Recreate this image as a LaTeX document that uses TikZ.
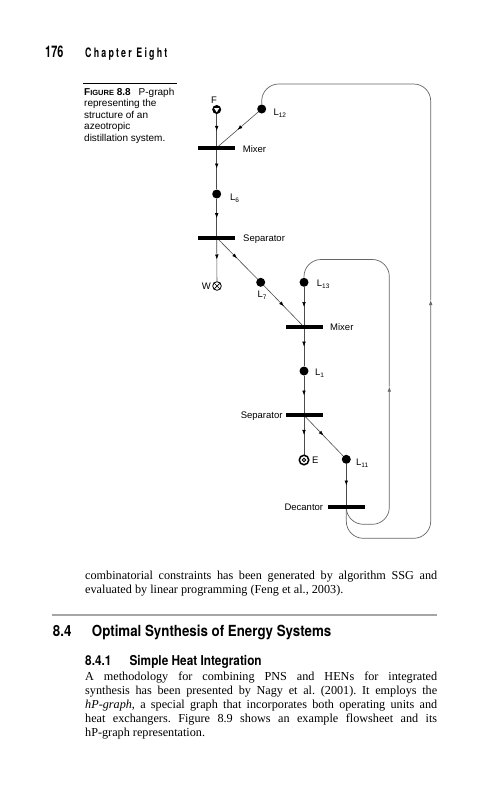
\documentclass[tikz,border=0pt]{standalone}
\usepackage{fontspec}
\setmainfont{Liberation Serif}
\setsansfont{Liberation Sans}
\newfontfamily\condfont[FakeStretch=0.68]{TeX Gyre Heros}
\newfontfamily\secfont[FakeStretch=0.87]{TeX Gyre Heros}
\usetikzlibrary{arrows.meta,decorations.markings,backgrounds}

\newcommand\Lsub[1]{L\raisebox{-2pt}{\fontsize{6.5}{7}\selectfont #1}}

\tikzset{
  dot/.style={circle,fill=black,inner sep=0pt,minimum size=9pt},
  unitbar/.style={fill=black,inner sep=0pt,minimum width=37pt,minimum height=4pt},
  lbl/.style={font=\sffamily\fontsize{9.5}{10}\selectfont,inner sep=0pt,anchor=base west},
  txt/.style={inner sep=0pt,anchor=base west},
  body/.style={txt,font=\frenchspacing\fontsize{12.2}{14}\selectfont},
  flow/.style={draw=black!70,line width=0.6pt,postaction={decorate},
    decoration={markings,mark=at position 0.5 with {\arrow[black]{Latex[length=5pt,width=3.6pt]}}}},
  recycle/.style={draw=black!60,line width=0.7pt,rounded corners=17pt},
}

\begin{document}
\begin{tikzpicture}[x=1pt,y=-1pt]
\useasboundingbox (0,0) rectangle (488,800);

% running head
\node[txt] (pageno) at (45,57.5) {\condfont\bfseries\fontsize{16}{16}\selectfont 176};
\node[txt] (chapter) at (85,57) {\condfont\bfseries\fontsize{13}{13}\selectfont\addfontfeature{LetterSpace=17}Chapter Eight};

% caption
\draw[line width=1.3pt] (83.3,83.3) -- (176.7,83.3);
\foreach \line [count=\i] in {{{\bfseries F{\fontsize{7.5}{8}\selectfont IGURE} 8.8}\hspace{8pt}P-graph},
    representing the, structure of an, azeotropic, distillation system.}
  \node[txt,font=\sffamily\fontsize{10}{11}\selectfont] (capt\i) at (84,83.4+11.6*\i) {\line};

% units
\node[unitbar] (mix1) at (216.7,147.7) {};
\node[unitbar] (sep1) at (216.7,237.7) {};
\node[unitbar] (mix2) at (304,327) {};
\node[unitbar] (sep2) at (304,415.3) {};
\node[unitbar] (dec) at (346.3,507) {};

% materials
\node[dot] (F) at (216.7,109.5) {};
\fill[white] (F.center) ++(-2.6,-1.4) -- ++(5.2,0) -- ++(-2.6,4.2) -- cycle;
\node[dot] (L12) at (261.7,109) {};
\node[dot] (L6) at (216.7,194) {};
\node[dot] (L7) at (260.7,282.3) {};
\node[dot] (L13) at (304,282.3) {};
\node[dot] (L1) at (304,371) {};
\node[dot] (L11) at (346.3,459.3) {};
\node[circle,draw,line width=0.8pt,minimum size=8.6pt,inner sep=0pt] (W) at (217,286) {};
\draw[line width=0.7pt] (W.north west) -- (W.south east) (W.north east) -- (W.south west);
\node[circle,draw,line width=1.5pt,minimum size=9.5pt,inner sep=0pt] (E) at (304,460) {};
\node[circle,draw,line width=0.9pt,minimum size=3.6pt,inner sep=0pt] (Ein) at (E) {};

% labels
\node[lbl,anchor=base] (Ftxt) at (214,103.5) {F};
\node[lbl] (L12txt) at (273.3,115) {\Lsub{12}};
\node[lbl] (mix1txt) at (242.7,152.5) {Mixer};
\node[lbl] (L6txt) at (230,200) {\Lsub{6}};
\node[lbl] (sep1txt) at (243,241.7) {Separator};
\node[lbl,anchor=base east] (Wtxt) at (211,289.5) {W};
\node[lbl] (L7txt) at (257.3,297) {\Lsub{7}};
\node[lbl] (L13txt) at (316.7,286.7) {\Lsub{13}};
\node[lbl] (mix2txt) at (330,330.7) {Mixer};
\node[lbl] (L1txt) at (315,375) {\Lsub{1}};
\node[lbl,anchor=base east] (sep2txt) at (282.7,418.7) {Separator};
\node[lbl] (Etxt) at (312,463.5) {E};
\node[lbl] (L11txt) at (356,465) {\Lsub{11}};
\node[lbl,anchor=base east] (dectxt) at (323.3,510.7) {Decantor};

% streams
\coordinate (r1) at (389.3,386.7);
\coordinate (t1) at (389.3,259.5);
\coordinate (r2) at (430.7,300);
\coordinate (t2) at (430.7,84);
\begin{scope}[on background layer]
\draw[flow] (F) -- (mix1.center);
\draw[flow] (L12) -- (mix1.center);
\draw[flow] (mix1.center) -- (L6);
\draw[flow] (L6) -- (sep1.center);
\draw[flow] (sep1.center) -- (W);
\draw[flow] (sep1.center) -- (L7);
\draw[flow] (L7) -- (mix2.center);
\draw[flow] (L13) -- (mix2.center);
\draw[flow] (mix2.center) -- (L1);
\draw[flow] (L1) -- (sep2.center);
\draw[flow] (sep2.center) -- (E);
\draw[flow] (sep2.center) -- (L11);
\draw[flow] (L11) -- (dec.center);
\draw[recycle,-{Latex[length=5pt,width=3.6pt]}] (dec.center) -- ++(0,17.3) -| (r1);
\draw[recycle] (r1) -- (t1) -| (L13);
\draw[recycle,-{Latex[length=5pt,width=3.6pt]}] (dec.center) -- ++(0,31.3) -| (r2);
\draw[recycle] (r2) -- (t2) -| (L12);
\end{scope}

% text below the figure
\node[body] (body1) at (85,579) {\makebox[352pt][s]{combinatorial constraints has been generated by algorithm SSG and}};
\node[body] (body2) at (85,593) {evaluated by linear programming (Feng et al., 2003).};

\draw[line width=2pt,black!35] (52,615) -- (437,615);
\node[txt] (secno) at (52.7,636) {\secfont\bfseries\fontsize{15.3}{16}\selectfont 8.4};
\node[txt] (sectitle) at (91.7,636) {\secfont\bfseries\fontsize{15.3}{16}\selectfont Optimal Synthesis of Energy Systems};
\node[txt] (subno) at (85,665) {\secfont\bfseries\fontsize{13.6}{14}\selectfont 8.4.1};
\node[txt] (subtitle) at (129.3,665) {\secfont\bfseries\fontsize{13.6}{14}\selectfont Simple Heat Integration};

\node[body] (para1) at (85,680.5) {\makebox[352pt][s]{A methodology for combining PNS and HENs for integrated}};
\node[body] (para2) at (85,694.5) {\makebox[352pt][s]{synthesis has been presented by Nagy et al. (2001). It employs the}};
\node[body] (para3) at (85,708.5) {\makebox[352pt][s]{\textit{hP-graph}, a special graph that incorporates both operating units and}};
\node[body] (para4) at (85,722.5) {\makebox[352pt][s]{heat exchangers. Figure 8.9 shows an example flowsheet and its}};
\node[body] (para5) at (85,736.5) {hP-graph representation.};

\end{tikzpicture}
\end{document}
